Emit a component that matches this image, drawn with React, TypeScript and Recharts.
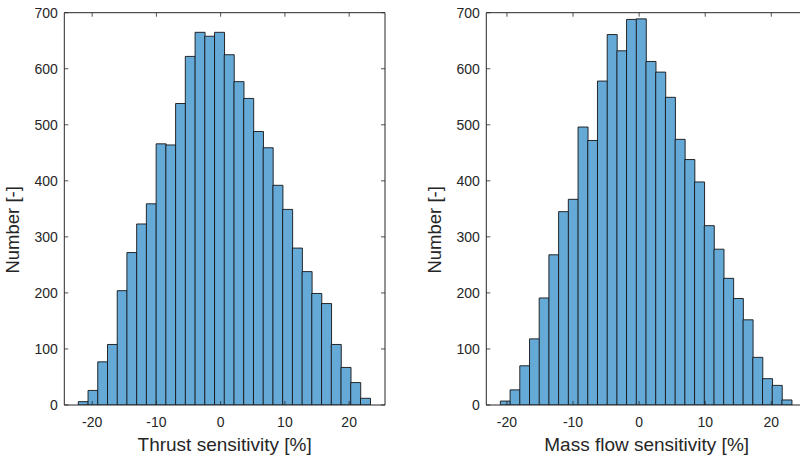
import React from 'react';
import { BarChart, Bar, XAxis, YAxis, Label } from 'recharts';

// Thrust sensitivity histogram (bin centers in %, counts)
const thrustCenters = [-21.41, -19.89, -18.38, -16.86, -15.35, -13.84, -12.32, -10.81, -9.29, -7.78, -6.26, -4.75, -3.23, -1.72, -0.2, 1.31, 2.83, 4.34, 5.86, 7.37, 8.89, 10.4, 11.92, 13.43, 14.94, 16.46, 17.97, 19.49, 21.0, 22.52];
const thrustCounts = [6, 26, 77, 108, 204, 272, 323, 359, 466, 464, 538, 622, 665, 658, 665, 625, 577, 547, 488, 459, 392, 349, 280, 238, 199, 181, 108, 67, 40, 12];

// Mass flow sensitivity histogram
const massCenters = [-20.26, -18.79, -17.32, -15.85, -14.39, -12.92, -11.45, -9.98, -8.51, -7.04, -5.57, -4.1, -2.63, -1.17, 0.3, 1.77, 3.24, 4.71, 6.18, 7.65, 9.12, 10.59, 12.06, 13.52, 14.99, 16.46, 17.93, 19.4, 20.87, 22.34];
const massCounts = [7, 27, 70, 118, 191, 268, 345, 367, 496, 472, 578, 661, 632, 688, 689, 613, 594, 549, 474, 438, 398, 320, 278, 226, 190, 152, 85, 47, 35, 9];

const xTicks = [-20, -10, 0, 10, 20];
const yTicks = [0, 100, 200, 300, 400, 500, 600, 700];
const thrustDomain: [number, number] = [-24.34, 25.58];
const massDomain: [number, number] = [-23.12, 25.4];
const yDomain: [number, number] = [0, 700];

const FONT = '"Liberation Sans", Arial, Helvetica, sans-serif';
const TXT = '#262626';
const AX = '#262626';
const TL = 4;

const BottomTick = (p: any) => (
  <g>
    <line x1={p.x} x2={p.x} y1={p.y} y2={p.y - TL} stroke={AX} strokeWidth={0.8} />
    <text x={p.x} y={p.y + 21.5} textAnchor="middle" fill={TXT} fontSize={14} fontFamily={FONT}>
      {p.payload.value}
    </text>
  </g>
);
const TopTick = (p: any) => (
  <line x1={p.x} x2={p.x} y1={p.y} y2={p.y + TL} stroke={AX} strokeWidth={0.8} />
);
const LeftTick = (p: any) => (
  <g>
    <line x1={p.x} x2={p.x + TL} y1={p.y} y2={p.y} stroke={AX} strokeWidth={0.8} />
    <text x={p.x - 6.5} y={p.y + 5} textAnchor="end" fill={TXT} fontSize={14} fontFamily={FONT}>
      {p.payload.value}
    </text>
  </g>
);
const RightTick = (p: any) => (
  <line x1={p.x} x2={p.x - TL} y1={p.y} y2={p.y} stroke={AX} strokeWidth={0.8} />
);

const XTitle = (text: string) => (p: any) => {
  const vb = p.viewBox;
  return (
    <text x={vb.x + vb.width / 2} y={vb.y + 46} textAnchor="middle" fill={TXT} fontSize={19} fontFamily={FONT}>
      {text}
    </text>
  );
};
const YTitle = (text: string) => (p: any) => {
  const vb = p.viewBox;
  const cx = vb.x + vb.width - 45;
  const cy = vb.y + vb.height / 2 + 21;
  return (
    <text x={cx} y={cy} transform={`rotate(-90 ${cx} ${cy})`} textAnchor="middle" fill={TXT} fontSize={18.5} fontFamily={FONT}>
      {text}
    </text>
  );
};

function Hist({ centers, counts, domain, title, left }: { centers: number[]; counts: number[]; domain: [number, number]; title: string; left: number }) {
  const data = centers.map((c, i) => ({ center: c, count: counts[i] }));
  return (
    <div style={{ position: 'absolute', left, top: 0 }}>
      <BarChart width={400} height={459} data={data} margin={{ top: 11.7, right: 14, bottom: 53, left: 63.3 }} barCategoryGap={0} barGap={0}>
        <XAxis xAxisId="b" dataKey="center" type="number" domain={domain} ticks={xTicks} interval={0} height={1} tickSize={0} tickMargin={0} tickLine={false} axisLine={{ stroke: AX, strokeWidth: 1 }} tick={BottomTick} allowDataOverflow>
          <Label content={XTitle(title)} />
        </XAxis>
        <XAxis xAxisId="t" orientation="top" dataKey="center" type="number" domain={domain} ticks={xTicks} interval={0} height={1} tickSize={0} tickMargin={0} tickLine={false} axisLine={{ stroke: AX, strokeWidth: 1 }} tick={TopTick} allowDataOverflow />
        <YAxis yAxisId="l" type="number" domain={yDomain} ticks={yTicks} interval={0} width={1} tickSize={0} tickMargin={0} tickLine={false} axisLine={{ stroke: AX, strokeWidth: 1 }} tick={LeftTick} allowDataOverflow>
          <Label content={YTitle('Number [-]')} />
        </YAxis>
        <YAxis yAxisId="r" orientation="right" type="number" domain={yDomain} ticks={yTicks} interval={0} width={1} tickSize={0} tickMargin={0} tickLine={false} axisLine={{ stroke: AX, strokeWidth: 1 }} tick={RightTick} allowDataOverflow />
        <Bar dataKey="count" xAxisId="b" yAxisId="l" fill="#65a9d7" stroke="#141414" strokeWidth={0.9} isAnimationActive={false} />
      </BarChart>
    </div>
  );
}

export default function App() {
  return (
    <div style={{ position: 'fixed', left: 0, top: 0, width: 800, height: 459, overflow: 'hidden', background: '#fff' }}>
      <Hist centers={thrustCenters} counts={thrustCounts} domain={thrustDomain} title="Thrust sensitivity [%]" left={0} />
      <Hist centers={massCenters} counts={massCounts} domain={massDomain} title="Mass flow sensitivity [%]" left={422.4} />
    </div>
  );
}
